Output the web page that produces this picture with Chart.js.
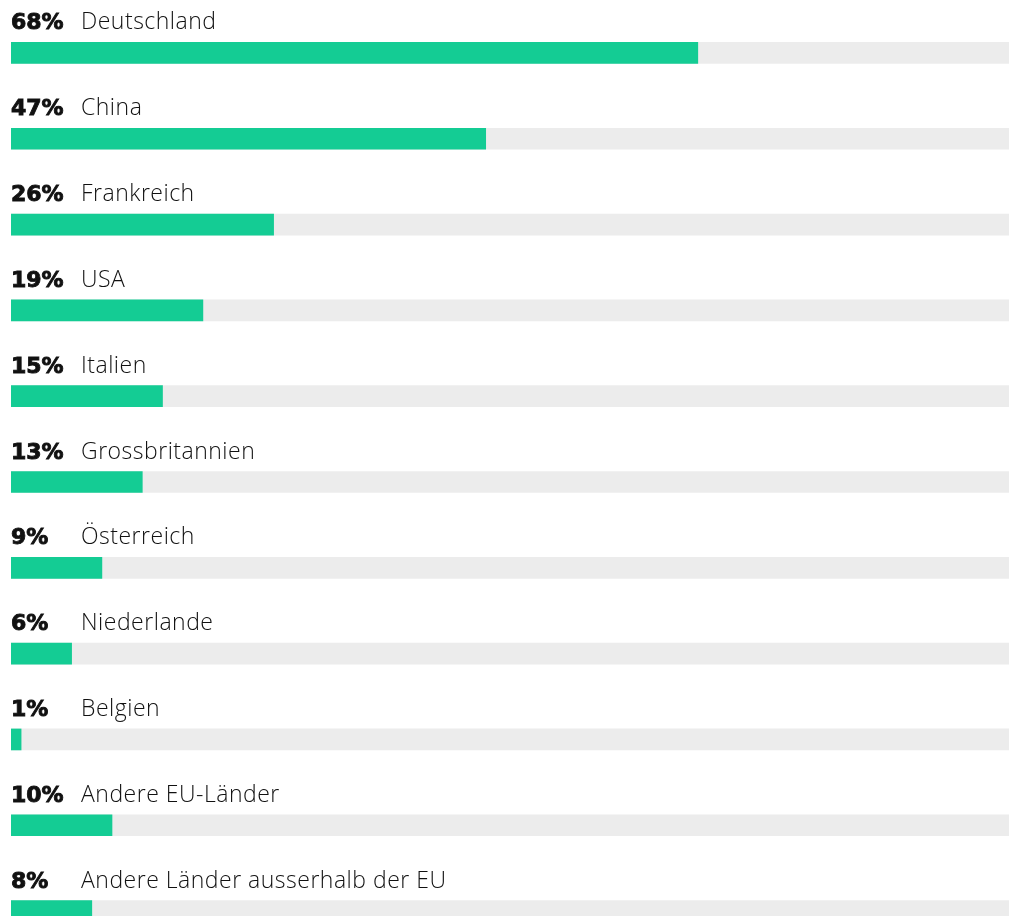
<!DOCTYPE html>
<html lang="de">
<head>
  <meta charset="UTF-8" />
  <title>Länder</title>
  <script src="https://cdn.jsdelivr.net/npm/chart.js"></script>
  <style>
    html, body {
      margin: 0;
      padding: 0;
      overflow: hidden;
      background: #fff;
    }
    canvas {
      display: block;
    }
  </style>
</head>
<body>
  <canvas id="grafico" width="1021" height="954"></canvas>

  <script>
    const laender = ["Deutschland", "China", "Frankreich", "USA", "Italien", "Grossbritannien",
      "Österreich", "Niederlande", "Belgien", "Andere EU-Länder", "Andere Länder ausserhalb der EU"];
    const anteile = [68, 47, 26, 19, 15, 13, 9, 6, 1, 10, 8];
    const hintergrund = laender.map(() => 100);

    // Beschriftung über jedem Balken
    const labelPlugin = {
      id: "labels",
      afterDatasetsDraw(chart) {
        const ctx = chart.ctx;
        const meta = chart.getDatasetMeta(0);
        const left = chart.chartArea.left;
        ctx.save();
        ctx.fillStyle = "#111";
        ctx.strokeStyle = "#111";
        ctx.lineWidth = 0.9;
        ctx.textBaseline = "alphabetic";
        meta.data.forEach((bar, i) => {
          const top = bar.y - bar.height / 2;
          const y = top - 13;
          ctx.letterSpacing = "0px";
          ctx.font = "bold 22px 'DejaVu Sans'";
          ctx.fillText(anteile[i] + "%", left, y);
          ctx.strokeText(anteile[i] + "%", left, y);
          ctx.letterSpacing = "0.5px";
          ctx.font = "300 23px 'Open Sans'";
          ctx.fillText(laender[i], left + 70, y);
        });
        ctx.restore();
      }
    };

    const ctx = document.getElementById("grafico").getContext("2d");
    new Chart(ctx, {
      type: "bar",
      data: {
        labels: laender,
        datasets: [{
          data: anteile,
          backgroundColor: "#14cc94",
          barThickness: 21,
          grouped: false,
          order: 1
        }, {
          data: hintergrund,
          backgroundColor: "#ececec",
          barThickness: 21,
          grouped: false,
          order: 2
        }]
      },
      options: {
        indexAxis: "y",
        responsive: false,
        animation: false,
        layout: { padding: { left: 11, top: 10, right: 0, bottom: 0 } },
        plugins: {
          legend: { display: false },
          tooltip: { enabled: false }
        },
        scales: {
          x: { display: false, min: 0, max: 100 },
          y: { display: false }
        }
      },
      plugins: [labelPlugin]
    });
  </script>
</body>
</html>
